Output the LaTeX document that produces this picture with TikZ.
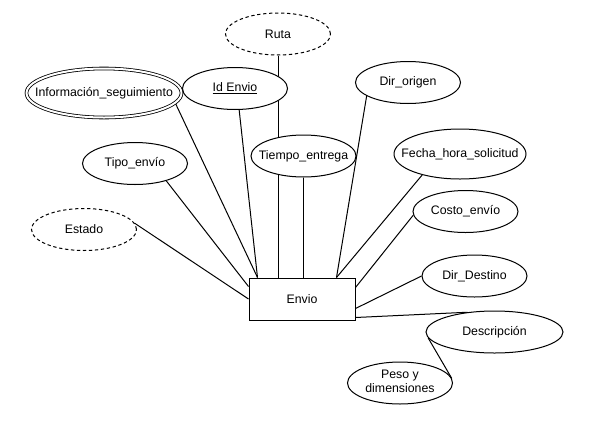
\documentclass[tikz,border=0pt]{standalone}
\usepackage{fontspec}
\setmainfont{Liberation Sans}
\usetikzlibrary{shapes.geometric,calc}
\pgfdeclarelayer{links}
\pgfsetlayers{links,main}
% label of zero width, so the ellipse size comes from its minimum size only
\newcommand\ctr[1]{\makebox[0pt]{#1}}
\begin{document}
\begin{tikzpicture}[x=0.75pt,y=-0.75pt,
  font=\fontsize{9.25}{10.5}\selectfont,
  attr/.style={ellipse,draw,fill=white,line width=0.75pt,inner sep=0pt,
    minimum width=78.75pt,minimum height=31.5pt},
  derived/.style={attr,dash pattern=on 2.5pt off 2pt},
  multi/.style={attr,double,double distance=1.5pt,line width=0.6pt},
  entity/.style={rectangle,draw,fill=white,line width=0.75pt,inner sep=0pt,
    minimum width=79.5pt,minimum height=31.5pt},
  link/.style={line width=0.75pt}]
\useasboundingbox (0,0) rectangle (596,422);

% entity
\node[entity] (envio) at (302,299) {Envio};

% attributes
\node[derived] (ruta) at (278,34) {\ctr{Ruta}};
\node[multi,minimum width=116.25pt,minimum height=36.75pt] (info) at (104,93)
  {\ctr{Información\_seguimiento}};
\node[attr] (id) at (235,88.5) {\ctr{\underline{Id Envio}}};
\node[attr] (tiempo) at (303.5,156) {\ctr{Tiempo\_entrega}};
\node[attr] (tipo) at (135,163.5) {\ctr{Tipo\_envío}};
\node[derived] (estado) at (84,229.5) {\ctr{Estado}};
\node[attr] (origen) at (408,82.5) {\ctr{Dir\_origen}};
\node[attr,minimum width=99pt,minimum height=37.5pt] (fecha) at (460,154)
  {\ctr{Fecha\_hora\_solicitud}};
\node[attr] (costo) at (465.5,211.5) {\ctr{Costo\_envío}};
\node[attr] (destino) at (474.5,276) {\ctr{Dir\_Destino}};
\node[attr,minimum width=102.75pt] (desc) at (494.5,332) {\ctr{Descripción}};
\node[attr] (peso) at (400,383)
  {\ctr{\begin{tabular}{@{}c@{}}Peso y\\dimensiones\end{tabular}}};

% connectors, kept beneath the shapes
\begin{pgfonlayer}{links}
\draw[link] (ruta.south) -- (ruta.south |- envio.north);
\draw[link] (tiempo.south) -- (tiempo.south |- envio.north);
\draw[link] (info.-8) -- ($(envio.north west)+(9,0)$);
\draw[link] (id.-79) -- ($(envio.north west)+(9,0)$);
\draw[link] (tipo.-29) -- ($(envio.north west)+(0,9)$);
\draw[link] (estado.7) -- (envio.west);
\draw[link] (origen.198) -- ($(envio.north east)+(-19,0)$);
\draw[link] (fecha.209) -- ($(envio.north east)+(-19,0)$);
\draw[link] (costo.184) -- ($(envio.north east)+(0,10)$);
\draw[link] (destino.west) -- ($(envio.south east)+(0,-12)$);
\draw[link] (desc.144) -- ($(envio.south east)+(0,-3)$);
\draw[link] (desc.185) -- (peso.5);
\end{pgfonlayer}
\end{tikzpicture}
\end{document}
